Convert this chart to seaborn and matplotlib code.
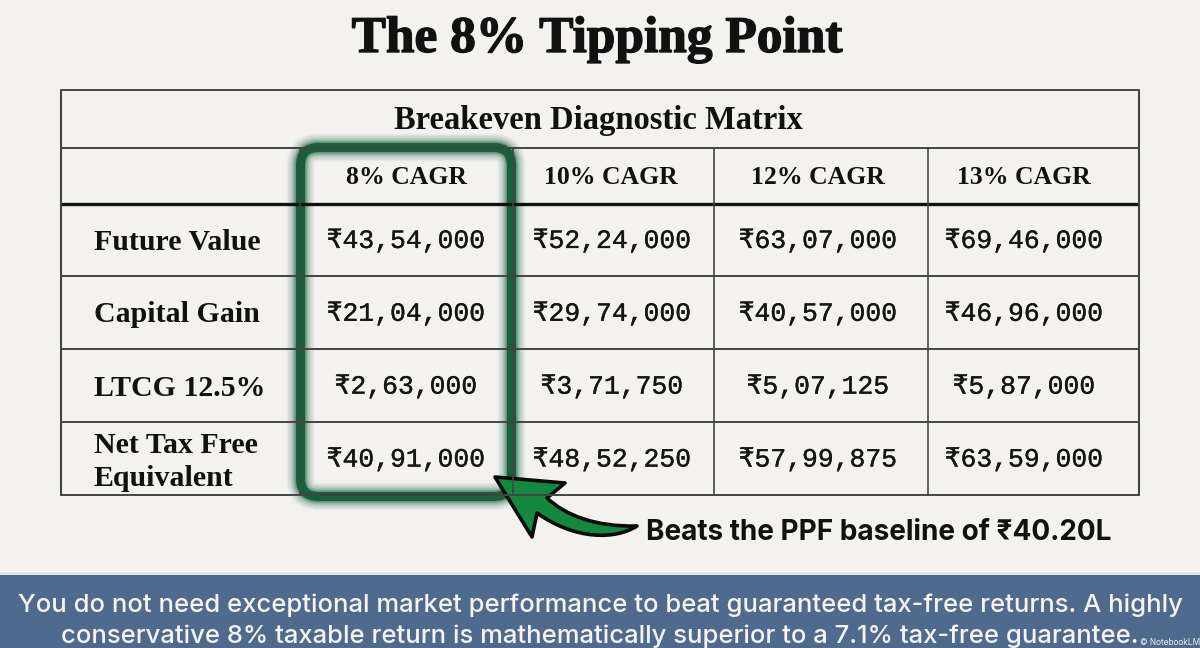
import numpy as np
import pandas as pd
import seaborn as sns
import matplotlib.pyplot as plt
import matplotlib.patheffects as pe
from matplotlib.colors import ListedColormap
from matplotlib.patches import FancyBboxPatch, PathPatch, Rectangle
from matplotlib.path import Path

BG = "#f3f2ee"
BAND = "#506a8e"
GREEN = "#17613a"
ARROW = "#12893f"
INK = "#111111"
LINE = "#444444"
SERIF = "Liberation Serif"
MONO = ["Liberation Mono", "DejaVu Sans Mono"]
SANS = ["Inter", "DejaVu Sans"]

title = "The 8% Tipping Point"
subtitle = "Breakeven Diagnostic Matrix"
columns = ["8% CAGR", "10% CAGR", "12% CAGR", "13% CAGR"]
rows = ["Future Value", "Capital Gain", "LTCG 12.5%", "Net Tax Free\nEquivalent"]
future_value = ["₹43,54,000", "₹52,24,000", "₹63,07,000", "₹69,46,000"]
capital_gain = ["₹21,04,000", "₹29,74,000", "₹40,57,000", "₹46,96,000"]
ltcg = ["₹2,63,000", "₹3,71,750", "₹5,07,125", "₹5,87,000"]
net_value = ["₹40,91,000", "₹48,52,250", "₹57,99,875", "₹63,59,000"]
callout = "Beats the PPF baseline of ₹40.20L"
footer_1 = "You do not need exceptional market performance to beat guaranteed tax-free returns. A highly"
footer_2 = "conservative 8% taxable return is mathematically superior to a 7.1% tax-free guarantee."

sns.set_theme(style="white")
plt.rcParams["font.family"] = ["Liberation Serif", "DejaVu Sans"]

W, H = 1200, 648
fig = plt.figure(figsize=(W / 100, H / 100), dpi=100, facecolor=BG)

# overlay in pixel coords, y going down
bg = fig.add_axes([0, 0, 1, 1])
bg.set_xlim(0, W)
bg.set_ylim(H, 0)
bg.axis("off")
bg.add_patch(Rectangle((0, 575), W, 73, color=BAND, lw=0))
bg.add_patch(Rectangle((0, 572), W, 3, color="#e4e4e4", lw=0))


def to_fig(x0, y0, x1, y1):
    return [x0 / W, 1 - y1 / H, (x1 - x0) / W, (y1 - y0) / H]


# table body through a heatmap, cells are one flat colour
labels = pd.DataFrame([future_value, capital_gain, ltcg, net_value], index=rows, columns=columns)
numbers = labels.apply(lambda c: c.str.replace("₹", "").str.replace(",", "").astype(float))
ax = fig.add_axes(to_fig(303, 204.5, 1127, 496), facecolor=BG)
sns.heatmap(numbers, annot=labels, fmt="", cbar=False, cmap=ListedColormap([BG]), ax=ax,
            annot_kws={"family": MONO, "size": 19, "color": "#151515",
                       "path_effects": [pe.withStroke(linewidth=0.25, foreground="#151515")]})
ax.tick_params(length=0)
ax.set_xticklabels([])
ax.set_yticklabels([])
ax.set_xlabel("")
ax.set_ylabel("")

# grid on top of heatmap
top = fig.add_axes([0, 0, 1, 1], facecolor="none")
top.set_xlim(0, W)
top.set_ylim(H, 0)
top.axis("off")
col_edges = [61, 300, 513, 714, 928, 1139]
row_edges = [90, 148, 204, 276, 349, 422, 495]
for i, y in enumerate(row_edges):
    top.plot([61, 1139], [y, y], color="#111111" if i == 2 else LINE, lw=2.4 if i == 2 else 1.4, solid_capstyle="butt")
for x in [61, 1139]:
    top.plot([x, x], [90, 495], color=LINE, lw=1.5)
for x in col_edges[1:-1]:
    top.plot([x, x], [148, 495], color=LINE, lw=1.2)

top.text(597, 40, title, ha="center", va="center", fontsize=37, fontweight="bold", color=INK, family=SERIF,
         path_effects=[pe.withStroke(linewidth=1.0, foreground=INK)])
top.text(598, 121, subtitle, ha="center", va="center", fontsize=23.5, fontweight="bold", color=INK, family=SERIF)
for x, c in zip([406, 611, 818, 1024], columns):
    top.text(x, 178, c, ha="center", va="center", fontsize=18.5, fontweight="bold", color=INK, family=SERIF)
for y, r in zip([243, 315, 388, 462], rows):
    top.text(94, y, r, ha="left", va="center", fontsize=21.5, fontweight="bold", color=INK, family=SERIF, linespacing=1.3)

# glowing green box around the 8% column
box = (300.5, 147.5, 211, 349)
style = "round,pad=0,rounding_size=18"
for lw, a in zip([20, 18, 16, 14, 12, 10.5, 9, 8], [0.05, 0.06, 0.07, 0.09, 0.11, 0.14, 0.18, 0.22]):
    top.add_patch(FancyBboxPatch(box[:2], box[2], box[3], boxstyle=style, fill=False, ec=GREEN, lw=lw, alpha=a))
top.add_patch(FancyBboxPatch(box[:2], box[2], box[3], boxstyle=style, fill=False, ec=GREEN, lw=6.5))

# curved arrow into the box
verts = [(495, 477), (565, 483), (547, 498), (565, 515), (595, 527), (637, 526),
         (615, 540), (575, 540), (537, 513), (532, 537), (495, 477)]
codes = [Path.MOVETO, Path.LINETO, Path.LINETO, Path.CURVE4, Path.CURVE4, Path.CURVE4,
         Path.CURVE4, Path.CURVE4, Path.CURVE4, Path.LINETO, Path.CLOSEPOLY]
top.add_patch(PathPatch(Path(verts, codes), fc=ARROW, ec="#0a0a0a", lw=2.6, joinstyle="round"))

top.text(646, 532, callout, ha="left", va="center", fontsize=20.1, fontweight="bold", color="#111111", family=SANS)
for y, line in zip([605, 636], [footer_1, footer_2]):
    top.text(600, y, line, ha="center", va="center", fontsize=18.45, fontweight=500, color="#f4f4f4", family=SANS)
top.text(1140, 647, "© NotebookLM", ha="left", va="bottom", fontsize=6, color="#f0f0f0", family=SANS)

fig.savefig("out.png", dpi=100, facecolor=BG)
